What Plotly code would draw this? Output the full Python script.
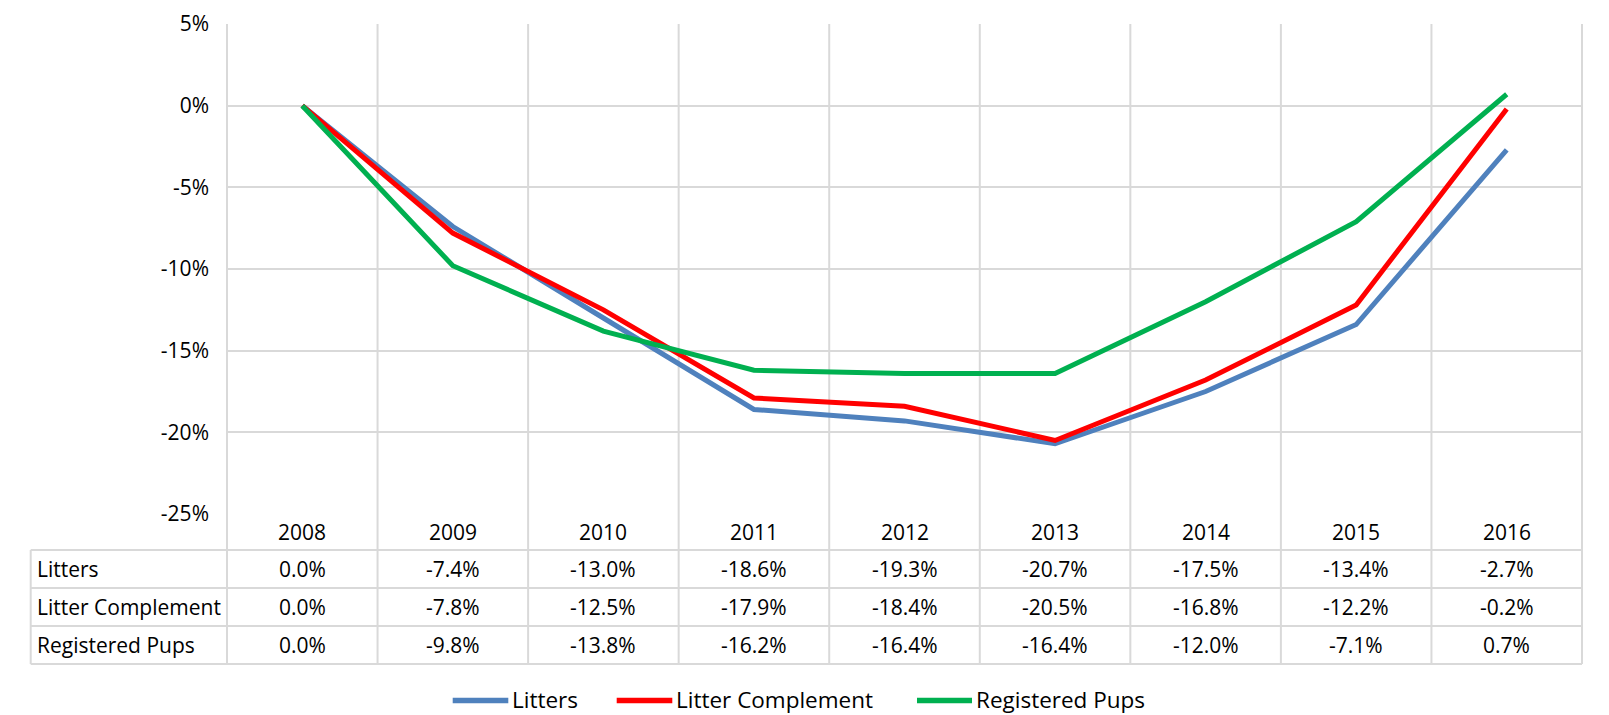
import plotly.graph_objects as go

years = ["2008", "2009", "2010", "2011", "2012", "2013", "2014", "2015", "2016"]
series_names = ["Litters", "Litter Complement", "Registered Pups"]
litters = [0.0, -7.4, -13.0, -18.6, -19.3, -20.7, -17.5, -13.4, -2.7]
litter_complement = [0.0, -7.8, -12.5, -17.9, -18.4, -20.5, -16.8, -12.2, -0.2]
registered_pups = [0.0, -9.8, -13.8, -16.2, -16.4, -16.4, -12.0, -7.1, 0.7]
y_ticks = [5, 0, -5, -10, -15, -20, -25]

series_values = [litters, litter_complement, registered_pups]
colors = ["#4F81BD", "#FF0000", "#00B050"]

OFF = 8  # page body margin
W, H = 1609 - OFF, 715 - OFF
# plot area in page pixels: x 227..1582, y 24..514
L = 227 - OFF
T = 24 - OFF
R = W - (1582 - OFF)
B = H - (514 - OFF)
PW, PH = W - L - R, H - T - B
FONT = "Open Sans"
GRID = "#D9D9D9"


def fx(px):
    return (px - OFF - L) / PW


def fy(py):
    return (H - B - (py - OFF)) / PH


n = len(years)
xs = list(range(n))
fig = go.Figure()
for name, vals, col in zip(series_names, series_values, colors):
    fig.add_trace(go.Scatter(x=xs, y=vals, mode="lines", name=name,
                             line=dict(color=col, width=5), showlegend=False))

shapes = []
for k in range(n + 1):
    xp = k / n
    shapes.append(dict(type="line", xref="paper", yref="paper", x0=xp, x1=xp,
                       y0=1, y1=fy(664), line=dict(color=GRID, width=2), layer="below"))
for py in [550, 588, 626, 664]:
    shapes.append(dict(type="line", xref="paper", yref="paper", x0=fx(30.7), x1=1,
                       y0=fy(py), y1=fy(py), line=dict(color=GRID, width=2), layer="below"))
shapes.append(dict(type="line", xref="paper", yref="paper", x0=fx(30.7), x1=fx(30.7),
                   y0=fy(550), y1=fy(664), line=dict(color=GRID, width=2), layer="below"))
shapes.append(dict(type="line", xref="paper", yref="paper", x0=fx(1607.5), x1=fx(1607.5),
                   y0=fy(OFF), y1=fy(715), line=dict(color="#4A7EBB", width=1.5)))

annotations = []
for i, yr in enumerate(years):
    annotations.append(dict(x=i, y=fy(531.5), xref="x", yref="paper", text=yr,
                            showarrow=False, font=dict(family=FONT, size=21, color="#000"),
                            xanchor="center", yanchor="middle"))
row_centers = [569, 607, 645]
for name, vals, yc in zip(series_names, series_values, row_centers):
    annotations.append(dict(x=fx(35), y=fy(yc), xref="paper", yref="paper", text=name,
                            showarrow=False, font=dict(family=FONT, size=21, color="#000"),
                            xanchor="left", yanchor="middle"))
    for i, v in enumerate(vals):
        annotations.append(dict(x=i, y=fy(yc), xref="x", yref="paper", text=f"{v:.1f}%",
                                showarrow=False, font=dict(family=FONT, size=21, color="#000"),
                                xanchor="center", yanchor="middle"))

leg_lines = [(452.7, 508.3), (616.7, 672.3), (917, 972)]
leg_text_x = [511, 675, 975]
for name, col, (x0, x1), tx in zip(series_names, colors, leg_lines, leg_text_x):
    shapes.append(dict(type="line", xref="paper", yref="paper", x0=fx(x0), x1=fx(x1),
                       y0=fy(700.5), y1=fy(700.5), line=dict(color=col, width=5.5)))
    annotations.append(dict(x=fx(tx), y=fy(699.5), xref="paper", yref="paper", text=name,
                            showarrow=False, font=dict(family=FONT, size=22.5, color="#000"),
                            xanchor="left", yanchor="middle", borderpad=0))

fig.update_layout(
    width=W, height=H,
    margin=dict(l=L, r=R, t=T, b=B, pad=0, autoexpand=False),
    paper_bgcolor="white", plot_bgcolor="white",
    shapes=shapes, annotations=annotations,
    showlegend=False,
    xaxis=dict(range=[-0.5, n - 0.5], showgrid=False, showticklabels=False,
               zeroline=False, showline=False, ticks="", fixedrange=True, automargin=False),
    yaxis=dict(range=[-25, 5], tickvals=y_ticks, ticktext=[f"{t}%" for t in y_ticks],
               showgrid=True, gridcolor=GRID, gridwidth=2, zeroline=False, showline=False,
               ticks="", ticklabelstandoff=17, automargin=False,
               tickfont=dict(family=FONT, size=21, color="#000")),
)

fig.write_html("out.html")
